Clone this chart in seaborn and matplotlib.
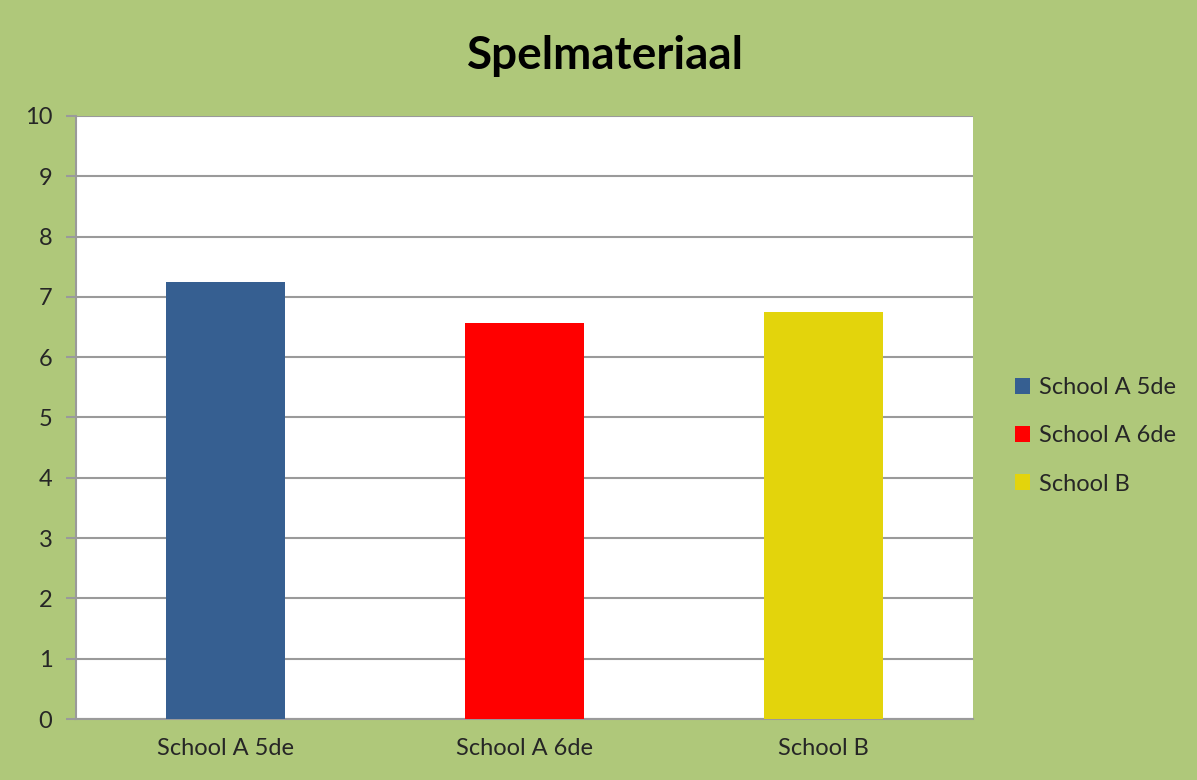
import matplotlib
matplotlib.use("Agg")
import matplotlib.pyplot as plt
import seaborn as sns
import pandas as pd

categories = ["School A 5de", "School A 6de", "School B"]
values = [7.24, 6.57, 6.75]
colors = ["#365F91", "#FF0000", "#E3D40C"]
yticks = list(range(0, 11))
title = "Spelmateriaal"

sns.set_theme(style="white")
plt.rcParams["font.family"] = ["Lato", "DejaVu Sans"]

bg = "#AFC87A"
grid_col = "#9A9A9A"

fig = plt.figure(figsize=(11.97, 7.80), dpi=100, facecolor=bg)
ax = fig.add_axes([76 / 1197, 1 - 719 / 780, (973 - 76) / 1197, (719 - 116) / 780])
ax.set_facecolor("white")

df = pd.DataFrame({"school": categories, "score": values})
sns.barplot(data=df, x="school", y="score", hue="school", palette=colors,
            width=0.4, dodge=False, legend=True, ax=ax, saturation=1,
            linewidth=0, edgecolor="none", zorder=3)

ax.set_ylim(0, 10)
ax.set_xlim(-0.5, 2.5)
ax.set_yticks(yticks)
ax.set_yticklabels([str(t) for t in yticks], fontsize=17)
ax.set_xlabel("")
ax.set_ylabel("")
ax.set_xticks(range(len(categories)))
ax.set_xticklabels(categories, fontsize=17)
ax.tick_params(axis="x", length=0, pad=14)
ax.set_xticks([-0.5, 0.5, 1.5, 2.5], minor=True)
ax.tick_params(axis="x", which="minor", length=7, width=1.5, color=grid_col, direction="out")
ax.tick_params(axis="y", length=7, width=1.5, color=grid_col, direction="out", pad=10, left=True)

ax.yaxis.grid(True, color=grid_col, linewidth=1.5, zorder=0)
ax.set_axisbelow(True)
for side in ["top", "right"]:
    ax.spines[side].set_visible(False)
for side in ["left", "bottom"]:
    ax.spines[side].set_color(grid_col)
    ax.spines[side].set_linewidth(1.5)

fig.text(605 / 1197, 1 - 56 / 780, title, ha="center", va="center",
         fontsize=33, fontweight="bold", color="black")

handles, labels = ax.get_legend_handles_labels()
ax.get_legend().remove()
fig.legend(handles, labels, loc="center left", bbox_to_anchor=(1015 / 1197, 1 - 436 / 780),
           frameon=False, fontsize=17, handlelength=0.65, handleheight=0.65,
           handletextpad=0.35, labelspacing=1.15, borderpad=0, borderaxespad=0)

fig.savefig("out.png", dpi=100, facecolor=bg)
